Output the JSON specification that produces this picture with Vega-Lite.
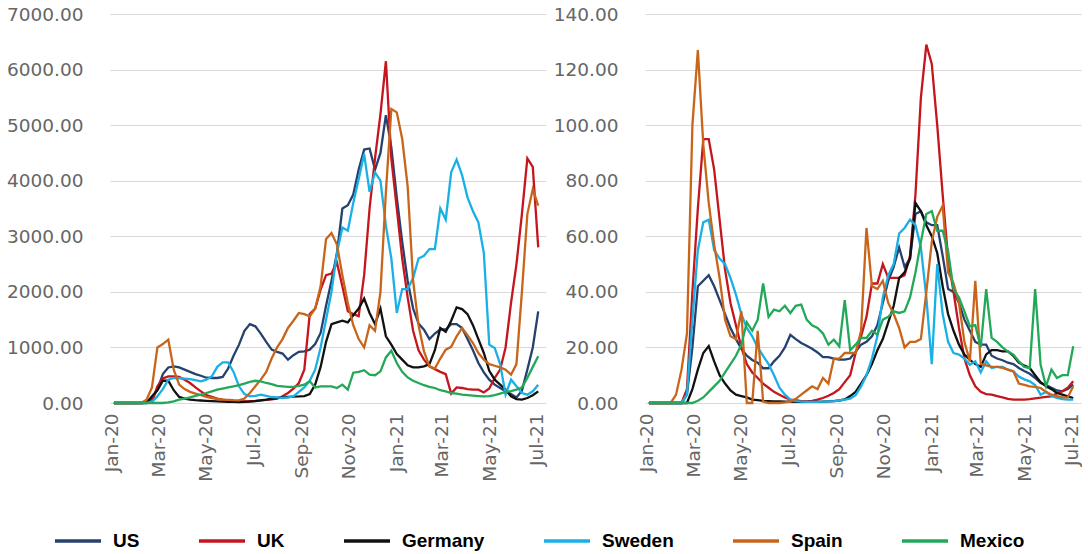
{
  "$schema": "https://vega.github.io/schema/vega-lite/v6.json",
  "background": "white",
  "padding": {"left": 6, "top": 5, "right": 0, "bottom": 0},
  "spacing": 6,
  "datasets": {
    "cases": [
      {"d":"2020-01-04","US":0,"UK":0,"Germany":0,"Sweden":0,"Spain":0,"Mexico":0},
      {"d":"2020-01-11","US":0,"UK":0,"Germany":0,"Sweden":0,"Spain":0,"Mexico":0},
      {"d":"2020-01-18","US":0,"UK":0,"Germany":0,"Sweden":0,"Spain":0,"Mexico":0},
      {"d":"2020-01-25","US":0,"UK":0,"Germany":0,"Sweden":0,"Spain":0,"Mexico":0},
      {"d":"2020-02-01","US":0,"UK":0,"Germany":0,"Sweden":0,"Spain":0,"Mexico":0},
      {"d":"2020-02-08","US":0,"UK":0,"Germany":0,"Sweden":0,"Spain":0,"Mexico":0},
      {"d":"2020-02-15","US":5,"UK":0,"Germany":5,"Sweden":0,"Spain":60,"Mexico":0},
      {"d":"2020-02-22","US":80,"UK":20,"Germany":120,"Sweden":20,"Spain":280,"Mexico":0},
      {"d":"2020-02-29","US":240,"UK":300,"Germany":230,"Sweden":120,"Spain":1000,"Mexico":0},
      {"d":"2020-03-07","US":520,"UK":440,"Germany":400,"Sweden":250,"Spain":1060,"Mexico":0},
      {"d":"2020-03-14","US":640,"UK":480,"Germany":400,"Sweden":420,"Spain":1140,"Mexico":10},
      {"d":"2020-03-21","US":660,"UK":480,"Germany":230,"Sweden":450,"Spain":600,"Mexico":30},
      {"d":"2020-03-28","US":640,"UK":470,"Germany":110,"Sweden":445,"Spain":330,"Mexico":60},
      {"d":"2020-04-04","US":600,"UK":420,"Germany":80,"Sweden":440,"Spain":250,"Mexico":80},
      {"d":"2020-04-11","US":560,"UK":360,"Germany":60,"Sweden":430,"Spain":200,"Mexico":100},
      {"d":"2020-04-18","US":520,"UK":280,"Germany":50,"Sweden":410,"Spain":170,"Mexico":130},
      {"d":"2020-04-25","US":490,"UK":210,"Germany":45,"Sweden":390,"Spain":140,"Mexico":150},
      {"d":"2020-05-02","US":455,"UK":140,"Germany":40,"Sweden":420,"Spain":110,"Mexico":180},
      {"d":"2020-05-09","US":450,"UK":110,"Germany":35,"Sweden":480,"Spain":90,"Mexico":210},
      {"d":"2020-05-16","US":450,"UK":80,"Germany":30,"Sweden":650,"Spain":72,"Mexico":240},
      {"d":"2020-05-23","US":470,"UK":60,"Germany":25,"Sweden":730,"Spain":60,"Mexico":260},
      {"d":"2020-05-30","US":620,"UK":45,"Germany":20,"Sweden":730,"Spain":55,"Mexico":280},
      {"d":"2020-06-06","US":850,"UK":35,"Germany":20,"Sweden":560,"Spain":50,"Mexico":300},
      {"d":"2020-06-13","US":1050,"UK":30,"Germany":18,"Sweden":300,"Spain":48,"Mexico":320},
      {"d":"2020-06-20","US":1300,"UK":30,"Germany":20,"Sweden":160,"Spain":80,"Mexico":350},
      {"d":"2020-06-27","US":1420,"UK":35,"Germany":25,"Sweden":120,"Spain":180,"Mexico":380},
      {"d":"2020-07-04","US":1380,"UK":40,"Germany":35,"Sweden":130,"Spain":300,"Mexico":400},
      {"d":"2020-07-11","US":1250,"UK":48,"Germany":48,"Sweden":150,"Spain":420,"Mexico":390},
      {"d":"2020-07-18","US":1100,"UK":55,"Germany":60,"Sweden":130,"Spain":560,"Mexico":360},
      {"d":"2020-07-25","US":960,"UK":65,"Germany":75,"Sweden":108,"Spain":800,"Mexico":340},
      {"d":"2020-08-01","US":920,"UK":80,"Germany":90,"Sweden":100,"Spain":1000,"Mexico":310},
      {"d":"2020-08-08","US":890,"UK":120,"Germany":100,"Sweden":90,"Spain":1150,"Mexico":300},
      {"d":"2020-08-15","US":780,"UK":180,"Germany":108,"Sweden":100,"Spain":1350,"Mexico":290},
      {"d":"2020-08-22","US":860,"UK":260,"Germany":115,"Sweden":120,"Spain":1480,"Mexico":290},
      {"d":"2020-08-29","US":920,"UK":360,"Germany":118,"Sweden":200,"Spain":1620,"Mexico":310},
      {"d":"2020-09-05","US":930,"UK":600,"Germany":125,"Sweden":280,"Spain":1600,"Mexico":330},
      {"d":"2020-09-12","US":960,"UK":1600,"Germany":160,"Sweden":400,"Spain":1560,"Mexico":390},
      {"d":"2020-09-19","US":1060,"UK":1700,"Germany":330,"Sweden":600,"Spain":1700,"Mexico":280},
      {"d":"2020-09-26","US":1260,"UK":2040,"Germany":650,"Sweden":1000,"Spain":2100,"Mexico":300},
      {"d":"2020-10-03","US":1750,"UK":2300,"Germany":1100,"Sweden":1500,"Spain":2950,"Mexico":300},
      {"d":"2020-10-10","US":2200,"UK":2330,"Germany":1420,"Sweden":2000,"Spain":3060,"Mexico":300},
      {"d":"2020-10-17","US":2700,"UK":2525,"Germany":1450,"Sweden":2700,"Spain":2850,"Mexico":270},
      {"d":"2020-10-24","US":3500,"UK":2100,"Germany":1480,"Sweden":3157,"Spain":2300,"Mexico":331},
      {"d":"2020-10-31","US":3560,"UK":1650,"Germany":1450,"Sweden":3100,"Spain":1800,"Mexico":240},
      {"d":"2020-11-07","US":3750,"UK":1600,"Germany":1580,"Sweden":3600,"Spain":1400,"Mexico":545},
      {"d":"2020-11-14","US":4200,"UK":1563,"Germany":1700,"Sweden":4030,"Spain":1150,"Mexico":560},
      {"d":"2020-11-21","US":4560,"UK":2300,"Germany":1880,"Sweden":4480,"Spain":1000,"Mexico":590},
      {"d":"2020-11-28","US":4580,"UK":3500,"Germany":1620,"Sweden":3800,"Spain":1400,"Mexico":510},
      {"d":"2020-12-05","US":4200,"UK":4400,"Germany":1420,"Sweden":4150,"Spain":1300,"Mexico":500},
      {"d":"2020-12-12","US":4500,"UK":5200,"Germany":1700,"Sweden":4000,"Spain":2000,"Mexico":570},
      {"d":"2020-12-19","US":5180,"UK":6150,"Germany":1200,"Sweden":3190,"Spain":3800,"Mexico":820},
      {"d":"2020-12-26","US":4600,"UK":4400,"Germany":1050,"Sweden":2600,"Spain":5290,"Mexico":940},
      {"d":"2021-01-02","US":3700,"UK":3500,"Germany":880,"Sweden":1620,"Spain":5230,"Mexico":720},
      {"d":"2021-01-09","US":2900,"UK":2600,"Germany":780,"Sweden":2050,"Spain":4750,"Mexico":560},
      {"d":"2021-01-16","US":2200,"UK":1900,"Germany":680,"Sweden":2050,"Spain":3900,"Mexico":460},
      {"d":"2021-01-23","US":1700,"UK":1300,"Germany":640,"Sweden":2250,"Spain":2200,"Mexico":400},
      {"d":"2021-01-30","US":1430,"UK":950,"Germany":640,"Sweden":2600,"Spain":1400,"Mexico":360},
      {"d":"2021-02-06","US":1320,"UK":780,"Germany":660,"Sweden":2650,"Spain":930,"Mexico":320},
      {"d":"2021-02-13","US":1150,"UK":660,"Germany":700,"Sweden":2770,"Spain":660,"Mexico":290},
      {"d":"2021-02-20","US":1250,"UK":610,"Germany":950,"Sweden":2770,"Spain":620,"Mexico":270},
      {"d":"2021-02-27","US":1323,"UK":560,"Germany":1350,"Sweden":3500,"Spain":800,"Mexico":230},
      {"d":"2021-03-06","US":1323,"UK":520,"Germany":1280,"Sweden":3300,"Spain":960,"Mexico":210},
      {"d":"2021-03-13","US":1420,"UK":170,"Germany":1480,"Sweden":4150,"Spain":1010,"Mexico":180},
      {"d":"2021-03-20","US":1420,"UK":280,"Germany":1720,"Sweden":4380,"Spain":1200,"Mexico":170},
      {"d":"2021-03-27","US":1350,"UK":270,"Germany":1690,"Sweden":4100,"Spain":1350,"Mexico":150},
      {"d":"2021-04-03","US":1150,"UK":250,"Germany":1600,"Sweden":3700,"Spain":1220,"Mexico":140},
      {"d":"2021-04-10","US":950,"UK":240,"Germany":1400,"Sweden":3450,"Spain":1080,"Mexico":132},
      {"d":"2021-04-17","US":720,"UK":240,"Germany":1150,"Sweden":3250,"Spain":900,"Mexico":125},
      {"d":"2021-04-24","US":550,"UK":190,"Germany":900,"Sweden":2700,"Spain":780,"Mexico":120},
      {"d":"2021-05-01","US":420,"UK":260,"Germany":580,"Sweden":1050,"Spain":700,"Mexico":125},
      {"d":"2021-05-08","US":330,"UK":450,"Germany":420,"Sweden":990,"Spain":670,"Mexico":140},
      {"d":"2021-05-15","US":270,"UK":600,"Germany":330,"Sweden":700,"Spain":640,"Mexico":170},
      {"d":"2021-05-22","US":210,"UK":1000,"Germany":240,"Sweden":150,"Spain":600,"Mexico":200},
      {"d":"2021-05-29","US":160,"UK":1800,"Germany":120,"Sweden":420,"Spain":510,"Mexico":215},
      {"d":"2021-06-05","US":100,"UK":2500,"Germany":70,"Sweden":300,"Spain":700,"Mexico":240},
      {"d":"2021-06-12","US":220,"UK":3400,"Germany":60,"Sweden":180,"Spain":2000,"Mexico":280},
      {"d":"2021-06-19","US":600,"UK":4400,"Germany":90,"Sweden":150,"Spain":3400,"Mexico":450},
      {"d":"2021-06-26","US":1000,"UK":4250,"Germany":140,"Sweden":210,"Spain":3850,"Mexico":650},
      {"d":"2021-07-03","US":1650,"UK":2800,"Germany":210,"Sweden":330,"Spain":3550,"Mexico":840}
    ],
    "deaths": [
      {"d":"2020-01-04","US":0,"UK":0,"Germany":0,"Sweden":0,"Spain":0,"Mexico":0},
      {"d":"2020-01-11","US":0,"UK":0,"Germany":0,"Sweden":0,"Spain":0,"Mexico":0},
      {"d":"2020-01-18","US":0,"UK":0,"Germany":0,"Sweden":0,"Spain":0,"Mexico":0},
      {"d":"2020-01-25","US":0,"UK":0,"Germany":0,"Sweden":0,"Spain":0,"Mexico":0},
      {"d":"2020-02-01","US":0,"UK":0,"Germany":0,"Sweden":0,"Spain":0,"Mexico":0},
      {"d":"2020-02-08","US":0,"UK":0,"Germany":0,"Sweden":0,"Spain":3,"Mexico":0},
      {"d":"2020-02-15","US":0,"UK":0,"Germany":0,"Sweden":0,"Spain":12,"Mexico":0},
      {"d":"2020-02-22","US":3,"UK":5,"Germany":0,"Sweden":3,"Spain":25,"Mexico":0},
      {"d":"2020-02-29","US":20,"UK":40,"Germany":5,"Sweden":30,"Spain":100,"Mexico":0},
      {"d":"2020-03-07","US":42,"UK":70,"Germany":12,"Sweden":55,"Spain":127,"Mexico":0.8},
      {"d":"2020-03-14","US":44,"UK":95,"Germany":18,"Sweden":65,"Spain":93,"Mexico":2},
      {"d":"2020-03-21","US":46,"UK":95,"Germany":20.5,"Sweden":66,"Spain":72,"Mexico":4},
      {"d":"2020-03-28","US":42,"UK":84,"Germany":15,"Sweden":55,"Spain":57,"Mexico":6},
      {"d":"2020-04-04","US":37,"UK":66,"Germany":10,"Sweden":52,"Spain":45,"Mexico":8},
      {"d":"2020-04-11","US":32,"UK":48,"Germany":7,"Sweden":50,"Spain":30,"Mexico":11},
      {"d":"2020-04-18","US":27,"UK":36,"Germany":4.5,"Sweden":45,"Spain":24,"Mexico":14},
      {"d":"2020-04-25","US":23,"UK":28,"Germany":3,"Sweden":39,"Spain":23,"Mexico":17},
      {"d":"2020-05-02","US":19.5,"UK":20,"Germany":2.5,"Sweden":32,"Spain":33,"Mexico":21},
      {"d":"2020-05-09","US":17,"UK":14,"Germany":2,"Sweden":27,"Spain":0,"Mexico":29},
      {"d":"2020-05-16","US":15.5,"UK":11,"Germany":1.2,"Sweden":24,"Spain":0,"Mexico":26},
      {"d":"2020-05-23","US":14.5,"UK":9,"Germany":1,"Sweden":20,"Spain":26,"Mexico":30},
      {"d":"2020-05-30","US":12.5,"UK":7,"Germany":0.8,"Sweden":17,"Spain":0.5,"Mexico":43},
      {"d":"2020-06-06","US":12.5,"UK":5.5,"Germany":0.7,"Sweden":14,"Spain":0,"Mexico":31},
      {"d":"2020-06-13","US":15,"UK":4,"Germany":0.6,"Sweden":10,"Spain":0,"Mexico":33.6},
      {"d":"2020-06-20","US":17,"UK":3,"Germany":0.6,"Sweden":5.5,"Spain":0,"Mexico":33},
      {"d":"2020-06-27","US":20,"UK":2,"Germany":0.5,"Sweden":3,"Spain":0.2,"Mexico":35},
      {"d":"2020-07-04","US":24.5,"UK":1.2,"Germany":0.5,"Sweden":1.2,"Spain":0.5,"Mexico":32.4},
      {"d":"2020-07-11","US":23,"UK":1,"Germany":0.4,"Sweden":0.7,"Spain":1.5,"Mexico":35},
      {"d":"2020-07-18","US":21.6,"UK":0.7,"Germany":0.4,"Sweden":0.5,"Spain":3,"Mexico":35.4},
      {"d":"2020-07-25","US":20.6,"UK":0.6,"Germany":0.4,"Sweden":0.4,"Spain":4.5,"Mexico":30},
      {"d":"2020-08-01","US":19.5,"UK":0.8,"Germany":0.4,"Sweden":0.4,"Spain":6,"Mexico":28},
      {"d":"2020-08-08","US":18.2,"UK":1.2,"Germany":0.4,"Sweden":0.4,"Spain":5,"Mexico":27},
      {"d":"2020-08-15","US":16.5,"UK":1.8,"Germany":0.5,"Sweden":0.5,"Spain":9,"Mexico":25},
      {"d":"2020-08-22","US":16.5,"UK":2.6,"Germany":0.6,"Sweden":0.6,"Spain":7,"Mexico":21},
      {"d":"2020-08-29","US":16,"UK":3.6,"Germany":0.7,"Sweden":0.7,"Spain":16,"Mexico":22.8},
      {"d":"2020-09-05","US":15.6,"UK":5,"Germany":0.9,"Sweden":0.9,"Spain":16,"Mexico":20.4},
      {"d":"2020-09-12","US":15.6,"UK":7.5,"Germany":1.3,"Sweden":1.2,"Spain":18,"Mexico":37},
      {"d":"2020-09-19","US":16,"UK":10,"Germany":2.5,"Sweden":1.6,"Spain":18,"Mexico":19},
      {"d":"2020-09-26","US":18.5,"UK":18,"Germany":4,"Sweden":2.8,"Spain":18,"Mexico":21},
      {"d":"2020-10-03","US":21,"UK":24,"Germany":7,"Sweden":6,"Spain":26,"Mexico":23.4},
      {"d":"2020-10-10","US":22,"UK":31,"Germany":10,"Sweden":10,"Spain":63,"Mexico":23.4},
      {"d":"2020-10-17","US":24,"UK":43,"Germany":14,"Sweden":16,"Spain":42,"Mexico":26},
      {"d":"2020-10-24","US":28,"UK":43,"Germany":19,"Sweden":24,"Spain":41,"Mexico":24.6},
      {"d":"2020-10-31","US":36,"UK":50,"Germany":23,"Sweden":38,"Spain":44,"Mexico":30},
      {"d":"2020-11-07","US":44,"UK":45,"Germany":29,"Sweden":46,"Spain":36,"Mexico":31},
      {"d":"2020-11-14","US":49,"UK":45,"Germany":35,"Sweden":50,"Spain":32,"Mexico":33},
      {"d":"2020-11-21","US":56,"UK":45,"Germany":45,"Sweden":61,"Spain":27,"Mexico":32.4},
      {"d":"2020-11-28","US":49,"UK":46,"Germany":47,"Sweden":63,"Spain":20,"Mexico":33},
      {"d":"2020-12-05","US":52,"UK":53,"Germany":52,"Sweden":66,"Spain":22,"Mexico":38},
      {"d":"2020-12-12","US":68,"UK":75,"Germany":72,"Sweden":64,"Spain":22,"Mexico":47},
      {"d":"2020-12-19","US":69,"UK":110,"Germany":69,"Sweden":56,"Spain":23,"Mexico":58},
      {"d":"2020-12-26","US":65,"UK":129,"Germany":64,"Sweden":38,"Spain":40,"Mexico":68},
      {"d":"2021-01-02","US":64,"UK":122,"Germany":60,"Sweden":14,"Spain":58,"Mexico":69},
      {"d":"2021-01-09","US":64,"UK":100,"Germany":54,"Sweden":50,"Spain":67,"Mexico":62},
      {"d":"2021-01-16","US":53,"UK":75,"Germany":42,"Sweden":32,"Spain":71,"Mexico":62},
      {"d":"2021-01-23","US":41,"UK":52,"Germany":32,"Sweden":22,"Spain":47,"Mexico":54.6},
      {"d":"2021-01-30","US":40,"UK":40,"Germany":26,"Sweden":18,"Spain":43,"Mexico":41},
      {"d":"2021-02-06","US":36,"UK":27,"Germany":21,"Sweden":17.4,"Spain":36,"Mexico":38},
      {"d":"2021-02-13","US":30,"UK":16,"Germany":17.4,"Sweden":16,"Spain":22,"Mexico":33},
      {"d":"2021-02-20","US":26,"UK":10,"Germany":15.5,"Sweden":13.8,"Spain":15,"Mexico":27.6},
      {"d":"2021-02-27","US":22,"UK":6,"Germany":14,"Sweden":15,"Spain":44,"Mexico":28},
      {"d":"2021-03-06","US":21,"UK":4,"Germany":13,"Sweden":11,"Spain":14,"Mexico":20},
      {"d":"2021-03-13","US":21,"UK":3.2,"Germany":17.5,"Sweden":15,"Spain":13.5,"Mexico":41},
      {"d":"2021-03-20","US":17,"UK":3,"Germany":19,"Sweden":12.6,"Spain":13,"Mexico":23.4},
      {"d":"2021-03-27","US":16,"UK":2.5,"Germany":19,"Sweden":13,"Spain":13,"Mexico":22},
      {"d":"2021-04-03","US":15.4,"UK":2,"Germany":18.6,"Sweden":13,"Spain":12.6,"Mexico":20},
      {"d":"2021-04-10","US":14.5,"UK":1.5,"Germany":18.6,"Sweden":12,"Spain":12,"Mexico":18.5},
      {"d":"2021-04-17","US":14,"UK":1.2,"Germany":17,"Sweden":11.4,"Spain":11.4,"Mexico":17.4},
      {"d":"2021-04-24","US":12.6,"UK":1.2,"Germany":14.5,"Sweden":9.5,"Spain":7,"Mexico":15},
      {"d":"2021-05-01","US":11.5,"UK":1.2,"Germany":13.5,"Sweden":8.5,"Spain":6.5,"Mexico":13},
      {"d":"2021-05-08","US":10.5,"UK":1.4,"Germany":12.6,"Sweden":7.8,"Spain":6,"Mexico":12.6},
      {"d":"2021-05-15","US":9,"UK":1.7,"Germany":10,"Sweden":6.5,"Spain":5.8,"Mexico":41},
      {"d":"2021-05-22","US":7.2,"UK":1.9,"Germany":7.5,"Sweden":3,"Spain":5.4,"Mexico":13.8},
      {"d":"2021-05-29","US":6.5,"UK":2.2,"Germany":6,"Sweden":4,"Spain":4,"Mexico":6},
      {"d":"2021-06-05","US":5.5,"UK":2.4,"Germany":5,"Sweden":2.5,"Spain":3,"Mexico":12},
      {"d":"2021-06-12","US":4.5,"UK":3.5,"Germany":3.6,"Sweden":1.8,"Spain":2.5,"Mexico":9},
      {"d":"2021-06-19","US":4.2,"UK":4.2,"Germany":3,"Sweden":1.4,"Spain":2,"Mexico":10},
      {"d":"2021-06-26","US":5,"UK":5.5,"Germany":2.4,"Sweden":1.2,"Spain":2,"Mexico":10},
      {"d":"2021-07-03","US":6.6,"UK":7.8,"Germany":1.8,"Sweden":1.2,"Spain":6,"Mexico":20.4}
    ]
  },
  "hconcat": [
    {
      "data": {"name": "cases"},
      "transform": [{"fold": ["US", "UK", "Germany", "Sweden", "Spain", "Mexico"], "as": ["country", "value"]}],
      "width": 436,
      "height": 389,
      "mark": {"type": "line", "strokeWidth": 2.3},
      "encoding": {
        "x": {
          "field": "d", "type": "temporal",
          "scale": {"type": "utc", "domain": [{"year": 2019, "month": 12, "date": 30, "utc": true}, {"year": 2021, "month": 7, "date": 13, "utc": true}]},
          "axis": {"title": null, "labelExpr": "utcFormat(datum.value, '%b-%y')", "tickCount": {"interval": "month", "step": 2}, "labelAngle": -90, "labelFlush": false, "labelOverlap": false, "labelPadding": 10, "ticks": false, "domain": false, "grid": false}
        },
        "y": {
          "field": "value", "type": "quantitative",
          "scale": {"domain": [0, 7000], "nice": false, "zero": true},
          "axis": {"title": null, "values": [0, 1000, 2000, 3000, 4000, 5000, 6000, 7000], "format": ".2f"}
        },
        "color": {
          "field": "country", "type": "nominal",
          "scale": {"domain": ["US", "UK", "Germany", "Sweden", "Spain", "Mexico"], "range": ["#25416E", "#C4161C", "#111111", "#1AB0E6", "#C8651B", "#22A858"]},
          "legend": {"title": null, "orient": "none", "legendX": -57, "legendY": 502, "direction": "horizontal", "columns": 6, "symbolType": "stroke", "symbolSize": 2116, "symbolStrokeWidth": 3.5, "labelFont": "Liberation Sans", "labelFontSize": 19, "labelFontWeight": "bold", "labelColor": "#000000", "labelOffset": 10, "columnPadding": 52}
        }
      }
    },
    {
      "data": {"name": "deaths"},
      "transform": [{"fold": ["US", "UK", "Germany", "Sweden", "Spain", "Mexico"], "as": ["country", "value"]}],
      "width": 436,
      "height": 389,
      "mark": {"type": "line", "strokeWidth": 2.3},
      "encoding": {
        "x": {
          "field": "d", "type": "temporal",
          "scale": {"type": "utc", "domain": [{"year": 2019, "month": 12, "date": 30, "utc": true}, {"year": 2021, "month": 7, "date": 13, "utc": true}]},
          "axis": {"title": null, "labelExpr": "utcFormat(datum.value, '%b-%y')", "tickCount": {"interval": "month", "step": 2}, "labelAngle": -90, "labelFlush": false, "labelOverlap": false, "labelPadding": 10, "ticks": false, "domain": false, "grid": false}
        },
        "y": {
          "field": "value", "type": "quantitative",
          "scale": {"domain": [0, 140], "nice": false, "zero": true},
          "axis": {"title": null, "values": [0, 20, 40, 60, 80, 100, 120, 140], "format": ".2f"}
        },
        "color": {
          "field": "country", "type": "nominal",
          "scale": {"domain": ["US", "UK", "Germany", "Sweden", "Spain", "Mexico"], "range": ["#25416E", "#C4161C", "#111111", "#1AB0E6", "#C8651B", "#22A858"]},
          "legend": {"title": null, "orient": "none", "legendX": -57, "legendY": 502, "direction": "horizontal", "columns": 6, "symbolType": "stroke", "symbolSize": 2116, "symbolStrokeWidth": 3.5, "labelFont": "Liberation Sans", "labelFontSize": 19, "labelFontWeight": "bold", "labelColor": "#000000", "labelOffset": 10, "columnPadding": 52}
        }
      }
    }
  ],
  "resolve": {"scale": {"color": "shared"}},
  "config": {
    "view": {"stroke": null},
    "axis": {"labelFont": "DejaVu Sans", "labelFontSize": 18.5, "labelColor": "#666666", "ticks": false, "domain": false},
    "axisY": {"grid": true, "gridColor": "#D9D9D9", "gridWidth": 1, "labelPadding": 27}
  }
}
